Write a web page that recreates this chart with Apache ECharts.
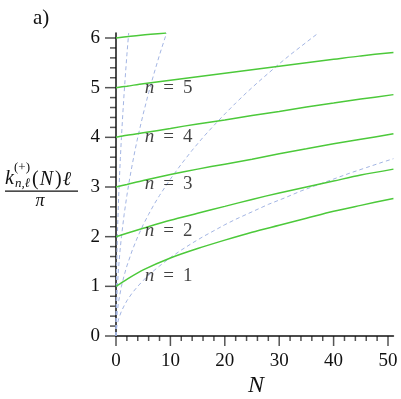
<!DOCTYPE html>
<html>
<head>
<meta charset="utf-8">
<script src="https://cdn.jsdelivr.net/npm/echarts@6/dist/echarts.min.js"></script>
<style>html,body{margin:0;padding:0;background:#fff}#c{width:401px;height:399px}</style>
</head>
<body>
<div id="c"></div>
<script>
// ---- data ----
const gN = [0, 2, 5, 10, 15, 20, 25, 30, 35, 40, 45, 51];
const green1 = [1.0, 1.14, 1.33, 1.57, 1.76, 1.93, 2.09, 2.23, 2.37, 2.51, 2.63, 2.77];
const green2 = [2.0, 2.07, 2.17, 2.33, 2.47, 2.61, 2.75, 2.88, 3.00, 3.12, 3.24, 3.36];
const green3 = [3.0, 3.05, 3.13, 3.25, 3.36, 3.46, 3.56, 3.67, 3.77, 3.87, 3.96, 4.07];
const green4 = [4.0, 4.04, 4.09, 4.18, 4.27, 4.35, 4.44, 4.52, 4.61, 4.69, 4.77, 4.86];
const green5 = [5.0, 5.03, 5.08, 5.15, 5.22, 5.29, 5.36, 5.43, 5.50, 5.57, 5.64, 5.71];
const g6N = [0, 4.5, 9.2];
const green6 = [6.0, 6.055, 6.1];

const d1N = [0, 0.005, 0.02, 0.05, 0.1, 0.2, 0.3, 0.45, 0.6, 0.8, 1.0, 1.25, 1.5, 1.75, 2.0, 2.33];
const dash1 = [0, 0.28, 0.57, 0.89, 1.27, 1.79, 2.19, 2.68, 3.10, 3.58, 4.0, 4.47, 4.90, 5.29, 5.66, 6.1];
const d2N = [0, 0.01, 0.04, 0.1, 0.25, 0.5, 0.75, 1, 1.5, 2, 2.5, 3, 3.5, 4, 5, 6, 7, 8, 9, 9.3];
const dash2 = [0, 0.2, 0.4, 0.63, 1.0, 1.41, 1.73, 2.0, 2.45, 2.83, 3.16, 3.46, 3.74, 4.0, 4.47, 4.90, 5.29, 5.66, 6.0, 6.1];
const d3N = [0, 0.02, 0.1, 0.25, 0.5, 1, 1.5, 2, 3, 4, 5, 6, 7, 8, 10, 12, 14, 16, 18, 20, 22, 24, 26, 28, 30, 32, 34, 36, 37.2];
const dash3 = [0, 0.14, 0.32, 0.5, 0.71, 1.0, 1.22, 1.41, 1.73, 2.0, 2.24, 2.45, 2.65, 2.83, 3.16, 3.46, 3.74, 4.0, 4.24, 4.47, 4.69, 4.90, 5.10, 5.29, 5.48, 5.66, 5.83, 6.0, 6.1];
const d4N = [0, 0.05, 0.2, 0.5, 1, 1.5, 2, 3, 4, 5, 6, 7, 8, 10, 12, 14, 16, 18, 20, 22, 25, 28, 31, 34, 37, 40, 43, 46, 49, 51];
const dash4 = [0, 0.11, 0.22, 0.35, 0.5, 0.61, 0.71, 0.87, 1.0, 1.12, 1.22, 1.32, 1.41, 1.58, 1.73, 1.87, 2.0, 2.12, 2.24, 2.35, 2.5, 2.65, 2.78, 2.92, 3.04, 3.16, 3.28, 3.39, 3.5, 3.57];

const labelN = [5.3, 5.3, 5.3, 5.3, 5.3];
const labelY = [1.21, 2.12, 3.06, 4.0, 4.99];
const labelText = ['1', '2', '3', '4', '5'];

// tick values
const xMajor = [0, 10, 20, 30, 40, 50];
const xMinor = [2, 4, 6, 8, 12, 14, 16, 18, 22, 24, 26, 28, 32, 34, 36, 38, 42, 44, 46, 48];
const yMajor = [0, 1, 2, 3, 4, 5, 6];
const yMinor = [0.2, 0.4, 0.6, 0.8, 1.2, 1.4, 1.6, 1.8, 2.2, 2.4, 2.6, 2.8, 3.2, 3.4, 3.6, 3.8, 4.2, 4.4, 4.6, 4.8, 5.2, 5.4, 5.6, 5.8];

// axis ranges
const xTickMax = 50, xTickStep = 10;
const yTickMax = 6, yTickStep = 1;
const xMax = 51, yMax = 6.1;

// ---- chart ----
const SERIF = '"Liberation Serif", "DejaVu Serif", serif';
const GREEN = '#4cc93a';
const BLUE = '#a3b5e3';
const TICK = '#555';
const zip = (xs, ys) => xs.map((x, i) => [x, ys[i]]);

// layout: label grid (0..50, 0..6); data grid extended to (0..51, 0..6.1) on the same scale
const L = 116, B = 63, W = 401, H = 399;
const tickRight = 13, tickTop = 38;
const pxX = (W - L - tickRight) / xTickMax;
const pxY = (H - B - tickTop) / yTickMax;
const dataRight = W - L - xMax * pxX;
const dataTop = H - B - yMax * pxY;

const chart = echarts.init(document.getElementById('c'), null, {renderer: 'canvas'});

const greens = [green1, green2, green3, green4, green5].map(v => ({
  type: 'line', data: zip(gN, v), smooth: 0.3, symbol: 'none',
  lineStyle: {color: GREEN, width: 1.5}, z: 3, animation: false
}));
greens.push({type: 'line', data: zip(g6N, green6), smooth: 0.3, symbol: 'none',
  lineStyle: {color: GREEN, width: 1.5}, z: 3, animation: false});

const dashes = [[d1N, dash1], [d2N, dash2], [d3N, dash3], [d4N, dash4]].map(([xs, ys]) => ({
  type: 'line', data: zip(xs, ys), smooth: false, symbol: 'none',
  lineStyle: {color: BLUE, width: 1, type: [4, 3]}, z: 2, animation: false
}));

const labelSeries = {
  type: 'scatter', symbolSize: 0, z: 5, animation: false, silent: true,
  data: labelN.map((x, i) => ({value: [x, labelY[i]], name: labelText[i]})),
  label: {
    show: true, position: 'right', distance: 0,
    formatter: p => '{i|n}{e|=}{r|' + p.name + '}',
    rich: {
      i: {fontFamily: SERIF, fontStyle: 'italic', fontSize: 19, color: '#111'},
      e: {fontFamily: SERIF, fontSize: 19, color: '#111', padding: [0, 9, 0, 9]},
      r: {fontFamily: SERIF, fontSize: 19, color: '#111'}
    }
  }
};

const option = {
  animation: false,
  backgroundColor: '#fff',
  grid: [
    {left: L, right: dataRight, top: dataTop, bottom: B},
    {left: L, right: tickRight, top: tickTop, bottom: B}
  ],
  xAxis: [
    {type: 'value', gridIndex: 0, min: 0, max: xMax, splitLine: {show: false},
      axisLine: {show: true, onZero: false, lineStyle: {color: '#111', width: 1.5}},
      axisTick: {show: false}, axisLabel: {show: false}},
    {type: 'value', gridIndex: 1, min: 0, max: xTickMax, interval: xTickStep, splitLine: {show: false},
      axisLine: {show: false, onZero: false},
      axisTick: {show: false}, minorTick: {show: false},
      axisLabel: {show: true, margin: 16, fontFamily: SERIF, fontSize: 19, color: '#111'}}
  ],
  yAxis: [
    {type: 'value', gridIndex: 0, min: 0, max: yMax, splitLine: {show: false},
      axisLine: {show: true, onZero: false, lineStyle: {color: '#111', width: 1.5}},
      axisTick: {show: false}, axisLabel: {show: false}},
    {type: 'value', gridIndex: 1, min: 0, max: yTickMax, interval: yTickStep, splitLine: {show: false},
      axisLine: {show: false, onZero: false},
      axisTick: {show: false}, minorTick: {show: false},
      axisLabel: {show: true, margin: 16, fontFamily: SERIF, fontSize: 19, color: '#111'}}
  ],
  series: dashes.concat(greens).concat([labelSeries])
};
chart.setOption(option);

// text decorations
const texts = [
  {type: 'text', x: 33, y: 18, style: {text: 'a)', font: '21px ' + SERIF, fill: '#111', align: 'left', verticalAlign: 'middle', textAlign: 'left', textVerticalAlign: 'middle'}},
  {type: 'text', x: 256, y: 386, style: {text: 'N', font: 'italic 24px ' + SERIF, fill: '#111', align: 'center', verticalAlign: 'middle', textAlign: 'center', textVerticalAlign: 'middle'}},
  {type: 'text', x: 5, y: 179, style: {text: 'k', font: 'italic 20px ' + SERIF, fill: '#111', align: 'left', verticalAlign: 'middle', textAlign: 'left', textVerticalAlign: 'middle'}},
  {type: 'text', x: 14, y: 168, style: {text: '(+)', font: '13px ' + SERIF, fill: '#111', align: 'left', verticalAlign: 'middle', textAlign: 'left', textVerticalAlign: 'middle'}},
  {type: 'text', x: 15, y: 184, style: {text: 'n,ℓ', font: 'italic 13px ' + SERIF, fill: '#111', align: 'left', verticalAlign: 'middle', textAlign: 'left', textVerticalAlign: 'middle'}},
  {type: 'text', x: 32, y: 180, style: {
    text: '{r|(}{i|N}{c|)}{i|ℓ}', fill: '#111', align: 'left', verticalAlign: 'middle', textAlign: 'left', textVerticalAlign: 'middle',
    rich: {
      r: {fontFamily: SERIF, fontSize: 20, fill: '#111', padding: [0, 1, 0, 0]},
      c: {fontFamily: SERIF, fontSize: 20, fill: '#111', padding: [0, 1, 0, 2]},
      i: {fontFamily: SERIF, fontStyle: 'italic', fontSize: 20, fill: '#111'}
    }
  }},
  {type: 'rect', shape: {x: 5, y: 190.5, width: 73, height: 1.2}, style: {fill: '#111'}},
  {type: 'text', x: 40, y: 201, style: {text: 'π', font: 'italic 18px ' + SERIF, fill: '#111', align: 'center', verticalAlign: 'middle', textAlign: 'center', textVerticalAlign: 'middle'}}
];

// tick marks, positioned through the data grid's scales
const toPx = v => chart.convertToPixel({gridIndex: 0}, v);
const ticks = [];
const addX = (vals, len) => vals.forEach(v => {
  const p = toPx([v, 0]);
  ticks.push({type: 'rect', silent: true, shape: {x: p[0] - 0.75, y: p[1], width: 1.5, height: len}, style: {fill: TICK}});
});
const addY = (vals, len) => vals.forEach(v => {
  const p = toPx([0, v]);
  ticks.push({type: 'rect', silent: true, shape: {x: p[0] - len, y: p[1] - 0.75, width: len, height: 1.5}, style: {fill: TICK}});
});
addX(xMajor, 10); addX(xMinor, 5);
addY(yMajor, 11); addY(yMinor, 6);

chart.setOption({graphic: texts.concat(ticks)});
</script>
</body>
</html>
